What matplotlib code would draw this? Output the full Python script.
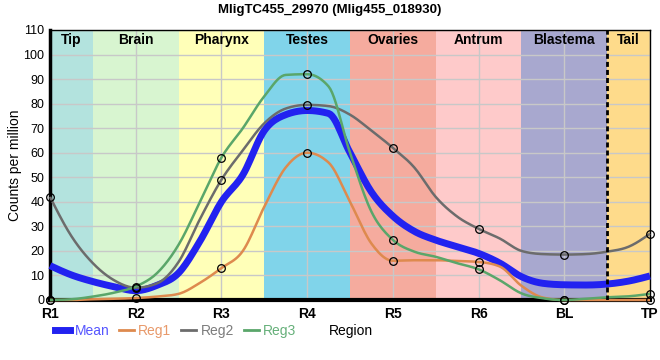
import numpy as np
import matplotlib
matplotlib.use("Agg")
import matplotlib.pyplot as plt
from matplotlib.lines import Line2D

plt.rcParams['font.family'] = ['Liberation Sans', 'DejaVu Sans']

# region labels on the x axis
regions = ["R1", "R2", "R3", "R4", "R5", "R6", "BL", "TP"]
# tissue bands along the top
tissues = ["Tip", "Brain", "Pharynx", "Testes", "Ovaries", "Antrum", "Blastema", "Tail"]
tissue_colors = ["#b3e3de", "#d8f5d0", "#ffffb8", "#80d4ea",
                 "#f5ab9e", "#fecaca", "#a8a8cf", "#fedb8b"]

# curves every quarter region (every 4th value is a marked region)
curve_x = np.arange(0, 7.01, 0.25)
reg1 = [0, 0, 0.3, 0.5, 0.8, 1.4, 2.5, 7, 13, 20, 38, 54, 60, 56, 40, 23,
        16, 16.2, 16.2, 15.9, 15.5, 13.6, 5.8, 1, 0, 0, 0, 0, 0]
reg2 = [42, 26, 15, 8, 5, 6.8, 15.5, 33, 49, 61, 72, 78, 79.5, 79, 75.5, 69,
        62, 54, 42, 34, 29, 25, 20, 18.7, 18.5, 18.7, 19.7, 21.7, 27]
reg3 = [0, 0.3, 1.4, 3, 5.5, 11, 22.5, 40, 58, 70, 83, 91.7, 92, 87, 60, 36,
        24.5, 19.7, 17.6, 15, 12.5, 8, 2.7, 0.7, 0, 0.5, 1.1, 1.5, 2.5]
mean = [14, 10.2, 7.5, 5.4, 3.8, 6, 11, 24, 40, 51, 69, 75.5, 77.2, 76, 60, 44,
        34.2, 28, 24.4, 21.7, 19, 15, 9.5, 6.8, 6.2, 6.1, 6.5, 7.7, 9.8]


def monotone(xs, ys, n=12):
    # monotone cubic (like d3 curveMonotoneX)
    xs = np.asarray(xs, float)
    ys = np.asarray(ys, float)
    h = np.diff(xs)
    s = np.diff(ys) / h
    m = np.zeros(len(xs))
    for i in range(1, len(xs) - 1):
        if s[i - 1] * s[i] <= 0:
            m[i] = 0
        else:
            p = (s[i - 1] * h[i] + s[i] * h[i - 1]) / (h[i - 1] + h[i])
            m[i] = (np.sign(s[i - 1]) + np.sign(s[i])) * min(abs(s[i - 1]), abs(s[i]), 0.5 * abs(p))
    m[0] = (3 * s[0] - m[1]) / 2
    m[-1] = (3 * s[-1] - m[-2]) / 2
    out_x, out_y = [], []
    for i in range(len(xs) - 1):
        t = np.linspace(0, 1, n, endpoint=False)
        h00 = 2 * t**3 - 3 * t**2 + 1
        h10 = t**3 - 2 * t**2 + t
        h01 = -2 * t**3 + 3 * t**2
        h11 = t**3 - t**2
        out_x.extend(xs[i] + t * h[i])
        out_y.extend(h00 * ys[i] + h10 * h[i] * m[i] + h01 * ys[i + 1] + h11 * h[i] * m[i + 1])
    out_x.append(xs[-1])
    out_y.append(ys[-1])
    return np.array(out_x), np.array(out_y)


fig = plt.figure(figsize=(6.6, 3.6), dpi=100)
ax = fig.add_axes([50 / 660, 60 / 360, 600 / 660, 270 / 360])

xpos = np.arange(len(regions))

for i, (name, col) in enumerate(zip(tissues, tissue_colors)):
    lo = max(i - 0.5, 0)
    hi = min(i + 0.5, len(regions) - 1)
    ax.axvspan(lo, hi, color=col, zorder=0.2, lw=0)
    ax.text((lo + hi) / 2, 106, name, ha='center', va='center',
            fontsize=10, fontweight='bold', zorder=5)

ax.axvline(6.5, color='black', lw=2, ls=(0, (1.8, 1.1)), zorder=6)

# name, values, line colour, width, markers?, legend text colour
series = [
    ("Mean", mean, "#2222f0", 5.0, False, "#5555ff"),
    ("Reg1", reg1, "#de8a4e", 1.8, True, "#e8996a"),
    ("Reg2", reg2, "#6c6c6c", 1.8, True, "#7c7c7c"),
    ("Reg3", reg3, "#5aa66a", 1.8, True, "#66b07a"),
]

handles = []
for name, vals, col, lw, marks, tcol in series:
    cx, cy = monotone(curve_x, vals)
    ax.plot(cx, cy, color=col, lw=lw, zorder=3, solid_capstyle='butt', clip_on=False)
    if marks:
        ax.plot(curve_x[::4], vals[::4], ls='none', marker='o', ms=5.5, mfc='none',
                mec='black', mew=0.9, zorder=4, clip_on=False)
    handles.append(Line2D([], [], color=col, lw=lw if lw > 3 else 2))

ax.set_xlim(0, len(regions) - 1)
ax.set_ylim(0, 110)
ax.set_xticks(xpos)
ax.set_xticklabels(regions, fontsize=10, fontweight='bold')
ax.set_yticks(np.arange(0, 111, 10))
ax.tick_params(axis='y', length=0, labelsize=9, pad=4)
ax.tick_params(axis='x', length=0, pad=5)
ax.grid(True, color='#c8c8c8', lw=1)
ax.set_axisbelow(True)

ax.spines['left'].set_linewidth(2.5)
ax.spines['bottom'].set_linewidth(3)
ax.spines['top'].set_linewidth(1)
ax.spines['right'].set_linewidth(1)

ax.set_ylabel("Counts per million", fontsize=10, labelpad=1)
fig.text(0.5, 1 - 10 / 360, "MligTC455_29970 (Mlig455_018930)", ha='center', va='center',
         fontsize=9.5, fontweight='bold')
fig.text(351 / 660, 1 - 331 / 360, "Region", ha='center', va='center', fontsize=10)

leg = fig.legend(handles, [s[0] for s in series], loc='center left',
                 bbox_to_anchor=(55 / 660, 1 - 331 / 360), ncol=4, frameon=False,
                 fontsize=10, handlelength=1.1, handletextpad=0.3, columnspacing=0.7,
                 borderaxespad=0, borderpad=0)
for txt, s in zip(leg.get_texts(), series):
    txt.set_color(s[5])

fig.savefig("out.png", dpi=100)
